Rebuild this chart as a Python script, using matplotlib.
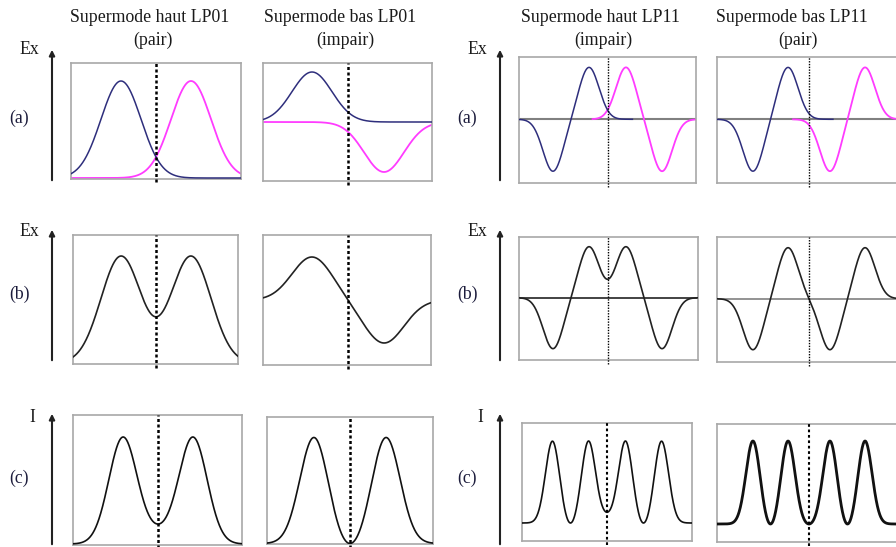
import numpy as np
import matplotlib
matplotlib.use("Agg")
import matplotlib.pyplot as plt
from matplotlib.patches import FancyArrowPatch

plt.rcParams['font.family'] = ['Liberation Serif', 'DejaVu Serif']

# ---------------- data ----------------
col_titles = ["Supermode haut LP01", "Supermode bas LP01",
              "Supermode haut LP11", "Supermode bas LP11"]
col_parity = ["(pair)", "(impair)", "(impair)", "(pair)"]
row_labels = ["(a)", "(b)", "(c)"]
axis_labels = ["Ex", "Ex", "I"]

# LP01 cores: Gaussian lobe offset from centre and width (a.u.)
lp01_haut_offset, lp01_haut_width = 35.0, 20.0
lp01_bas_offset, lp01_bas_width = 36.0, 20.0
# LP11 cores: negative-lobe and positive-lobe offsets, lobe width (a.u.)
lp11_haut_lobes, lp11_haut_width = [-54.5, -18.5], 10.0
lp11_bas_lobes, lp11_bas_width = [-56.0, -21.0], 10.0
# drawn extent of each core field in row (a) for LP11 panels (a.u.)
lp11_haut_core_extent = [[-90, 25], [-15, 90]]
lp11_bas_core_extent = [[-92, 24], [-16, 95]]

# ---------------- layout (pixel boxes) ----------------
W, H = 896, 547
# (x0, x1, y0, y1, xcenter, yzero, px_per_unit)
boxes = {
    (0, 0): (71, 241, 63, 179, 156, 178, 97),
    (0, 1): (263, 432, 63, 181, 348, 122, 50),
    (0, 2): (519, 696, 57, 183, 607.5, 119.3, 52),
    (0, 3): (717, 903, 57, 183, 809, 119.3, 52),
    (1, 0): (73, 238, 235, 364, 156, 363, 107),
    (1, 1): (263, 431, 235, 365, 348, 300, 43),
    (1, 2): (519, 698, 237, 360, 607.5, 297.7, 51),
    (1, 3): (717, 903, 237, 362, 809, 298.7, 51),
    (2, 0): (73, 242, 415, 545, 158, 544, 107),
    (2, 1): (267, 433, 417, 544, 350, 543.5, 106),
    (2, 2): (522, 692, 423, 541, 607, 523, 82),
    (2, 3): (717, 903, 424, 542, 809, 524, 83),
}

BLUE = '#2e2e7c'
MAG = '#ff3cff'
FRAME = '#a8a8a8'


def gauss(x, c, w):
    return np.exp(-(x - c) ** 2 / (2 * w ** 2))


def cores(col, x):
    if col == 0:
        a = gauss(x, -lp01_haut_offset, lp01_haut_width)
        b = gauss(x, lp01_haut_offset, lp01_haut_width)
    elif col == 1:
        a = gauss(x, -lp01_bas_offset, lp01_bas_width)
        b = -gauss(x, lp01_bas_offset, lp01_bas_width)
    elif col == 2:
        n, p = lp11_haut_lobes
        a = -gauss(x, n, lp11_haut_width) + gauss(x, p, lp11_haut_width)
        b = -gauss(-x, n, lp11_haut_width) + gauss(-x, p, lp11_haut_width)
    else:
        n, p = lp11_bas_lobes
        a = -gauss(x, n, lp11_bas_width) + gauss(x, p, lp11_bas_width)
        b = gauss(-x, n, lp11_bas_width) - gauss(-x, p, lp11_bas_width)
    return a, b


fig = plt.figure(figsize=(W / 100, H / 100), dpi=100)


def fy(y):
    return H - y


for (r, c), (x0, x1, y0, y1, xc, yz, u) in boxes.items():
    ax = fig.add_axes([x0 / W, (H - y1) / H, (x1 - x0) / W, (y1 - y0) / H])
    xl = (x0 - xc, x1 - xc)
    yl = (-(y1 - yz) / u, (yz - y0) / u)
    ax.set_xlim(xl)
    ax.set_ylim(yl)
    ax.set_xticks([])
    ax.set_yticks([])
    for s in ax.spines.values():
        s.set_color(FRAME)
        s.set_linewidth(1.2)
    x = np.linspace(xl[0], xl[1], 800)
    a, b = cores(c, x)
    if r == 0:
        if c >= 2:
            ax.axhline(0, color='#808080', lw=1.5, zorder=1)
            ext = lp11_haut_core_extent if c == 2 else lp11_bas_core_extent
            ma = (x >= ext[0][0]) & (x <= ext[0][1])
            mb = (x >= ext[1][0]) & (x <= ext[1][1])
            ax.plot(x[ma], a[ma], color=BLUE, lw=1.1, zorder=3)
            ax.plot(x[mb], b[mb], color=MAG, lw=1.3, zorder=2)
        else:
            ax.plot(x, b, color=MAG, lw=1.3, zorder=2)
            ax.plot(x, a, color=BLUE, lw=1.1, zorder=3)
    elif r == 1:
        e = a + b
        e = e / np.max(np.abs(e))
        if c == 2:
            ax.axhline(0, color='#222222', lw=1.2, zorder=1)
        elif c == 3:
            ax.axhline(0, color='#808080', lw=1.2, zorder=1)
        ax.plot(x, e, color='#222222', lw=1.2, zorder=3)
    else:
        e = a + b
        i = e ** 2
        i = i / i.max()
        ax.plot(x, i, color='#111111', lw=2.0 if c == 3 else 1.2, zorder=3)
    # centre dotted line
    if c < 2 or r == 2:
        ls, lw = (0, (1.2, 1.0)), 1.8
        if c >= 2:
            ls, lw = (0, (1.3, 1.3)), 1.5
    else:
        ls, lw = (0, (1, 1)), 1.0
    ax.axvline(0, ymin=-0.03, ymax=1, color='black', lw=lw, ls=ls,
               clip_on=False, zorder=4)

# column titles
title_x = [150, 340, 600, 792]
par_x = [153, 345, 603, 798]
for k in range(4):
    fig.text(title_x[k] / W, fy(18) / H, col_titles[k], ha='center',
             va='center', fontsize=12.8, color='#1a1a1a')
    fig.text(par_x[k] / W, fy(40) / H, col_parity[k], ha='center',
             va='center', fontsize=12.8, color='#1a1a1a')

# axis arrows and labels
arrow_x = [52, 500]
arrow_y = [(183, 47), (363, 227), (547, 411)]
lab_y = [50, 231, 417]
rl_y = [118, 294, 478]
for ax_x, lx, rx in zip(arrow_x, [29, 477], [19, 467]):
    for r in range(3):
        yb, yt = arrow_y[r]
        arr = FancyArrowPatch((ax_x, fy(yb)), (ax_x, fy(yt)),
                              transform=None, arrowstyle='-|>',
                              mutation_scale=8, lw=1.5, color='#222222')
        fig.add_artist(arr)
        lxx = lx if r < 2 else lx + 3
        fig.text(lxx / W, fy(lab_y[r]) / H, axis_labels[r], ha='center',
                 va='center', fontsize=12.8, color='#1a1a1a')
        fig.text(rx / W, fy(rl_y[r]) / H, row_labels[r], ha='center',
                 va='center', fontsize=12.8, color='#1c1c3c')

fig.savefig('out.png', dpi=100)
